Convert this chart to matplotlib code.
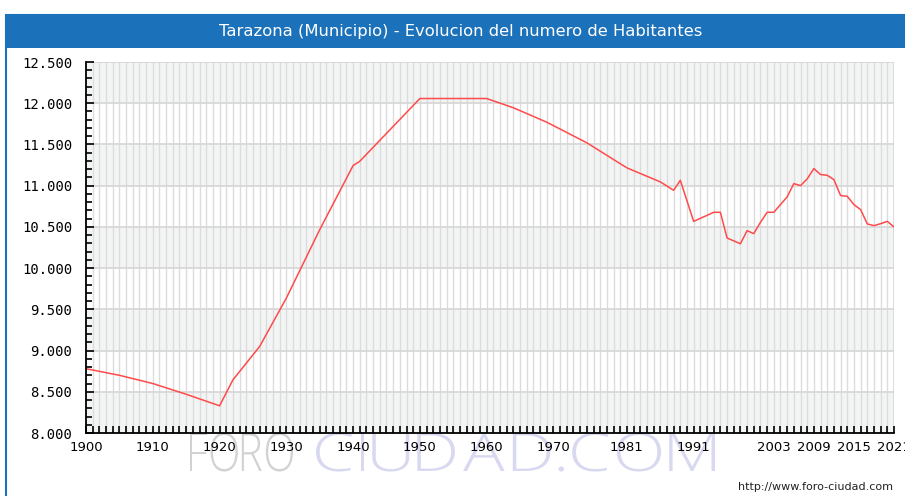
import matplotlib
matplotlib.use('Agg')
import matplotlib.pyplot as plt
from matplotlib.patches import Rectangle, PathPatch
from matplotlib.textpath import TextPath
from matplotlib.font_manager import FontProperties
from matplotlib.transforms import Affine2D
from matplotlib.ticker import FuncFormatter, MultipleLocator

# datos (habitantes por año)
years = [1900, 1905, 1910, 1915, 1920, 1922, 1926, 1930, 1935, 1940, 1941,
         1950, 1960, 1964, 1969, 1975, 1981, 1986, 1988, 1989, 1991, 1994, 1995,
         1996, 1998, 1999, 2000, 2001, 2002, 2003, 2005, 2006, 2007, 2008, 2009,
         2010, 2011, 2012, 2013, 2014, 2015, 2016, 2017, 2018, 2019, 2020, 2021]
habitantes = [8780, 8700, 8600, 8470, 8330, 8644, 9049, 9636, 10466, 11244, 11296,
              12057, 12057, 11945, 11770, 11520, 11216, 11046, 10944, 11065, 10567, 10677, 10677,
              10365, 10296, 10454, 10418, 10555, 10677, 10677, 10864, 11025, 11001, 11082, 11207,
              11135, 11126, 11074, 10880, 10871, 10770, 10710, 10536, 10515, 10539, 10567, 10499]
xlabels = [1900, 1910, 1920, 1930, 1940, 1950, 1960, 1970, 1981, 1991, 2003, 2009, 2015, 2021]
titulo = 'Tarazona (Municipio) - Evolucion del numero de Habitantes'

W, H = 905, 496
azul = '#1c71bb'
fig = plt.figure(figsize=(W / 100, H / 100), dpi=100)
px = Affine2D().scale(1 / W, 1 / H) + fig.transFigure  # pixeles desde abajo-izq
fp = FontProperties(family='Open Sans', weight='light')


def marca(texto, x0, x1, ytop, ybot, color, hx):
    # letras de la marca de agua, con ancho hx y espaciadas para llenar la caja (pixeles)
    paths = [TextPath((0, 0), c, size=40, prop=fp) for c in texto]
    cap = TextPath((0, 0), 'H', size=40, prop=fp).get_extents().height
    s = (ybot - ytop) / cap
    anchos = [p.get_extents().width * s * hx for p in paths]
    hueco = (x1 - x0 - sum(anchos)) / (len(texto) - 1)
    x = x0
    for p, w in zip(paths, anchos):
        bb = p.get_extents()
        tr = Affine2D().translate(-bb.x0, 0).scale(s * hx, s).translate(x, H - ybot) + px
        fig.patches.append(PathPatch(p, transform=tr, facecolor=color, lw=0, zorder=-1))
        x += w + hueco


# marco y barra de titulo
fig.patches.append(Rectangle((6 / W, -0.1), 1.0, (H - 15) / H + 0.1, transform=fig.transFigure,
                             facecolor='white', edgecolor=azul, lw=1.5, zorder=-3))
fig.patches.append(Rectangle((6 / W, (H - 48) / H), 1.0, 33 / H, transform=fig.transFigure,
                             facecolor=azul, edgecolor='none', zorder=-2))
fig.text(0.5 + 8 / W, (H - 31.5) / H, titulo, color='white', fontsize=11.8,
         ha='center', va='center')

ax = fig.add_axes([86 / W, 1 - 433 / H, (894 - 86) / W, (433 - 62) / H])
ax.set_xlim(1900, 2021)
ax.set_ylim(8000, 12500)

# bandas alternas
for y0 in range(8000, 12500, 1000):
    ax.axhspan(y0, y0 + 500, color='#f3f5f5', lw=0, zorder=0)
for yr in range(1901, 2021):
    ax.axvline(yr, color='#dcdcdc', lw=1, zorder=1)
for yv in range(8500, 12500, 500):
    ax.axhline(yv, color='#d8d8d8', lw=1.3, zorder=1)
ax.axhline(12500, color='#d8d8d8', lw=1.3, zorder=1)
ax.axvline(2021, color='#d8d8d8', lw=1.3, zorder=1)

ax.plot(years, habitantes, color='#ff4a4a', lw=1.1, zorder=3)

for s in ['top', 'right']:
    ax.spines[s].set_visible(False)
for s in ['left', 'bottom']:
    ax.spines[s].set_linewidth(1.3)
    ax.spines[s].set_zorder(4)

ax.set_yticks(range(8000, 12501, 500))
ax.yaxis.set_minor_locator(MultipleLocator(100))
ax.yaxis.set_major_formatter(FuncFormatter(lambda v, p: f'{int(v):,}'.replace(',', '.')))
ax.set_xticks(xlabels)
ax.xaxis.set_minor_locator(MultipleLocator(1))
ax.tick_params(axis='both', which='both', direction='in', color='black', width=1.2)
ax.tick_params(axis='y', which='major', length=6, labelsize=10, pad=10)
ax.tick_params(axis='y', which='minor', length=4)
ax.tick_params(axis='x', which='major', length=5, labelsize=9.5, pad=6)
ax.tick_params(axis='x', which='minor', length=5)
for t in ax.get_yticklabels():
    t.set_fontfamily('DejaVu Sans Mono')

# marca de agua
marca('FORO', 190, 293, 433, 471, '#d2d2d2', 0.8)
marca('CIUDAD.COM', 316, 715, 433, 471, '#d8d8f0', 1.3)
fig.text(893 / W, (H - 487) / H, 'http://www.foro-ciudad.com', fontsize=8, color='#222222',
         ha='right', va='center')

fig.savefig('out.png', dpi=100)
